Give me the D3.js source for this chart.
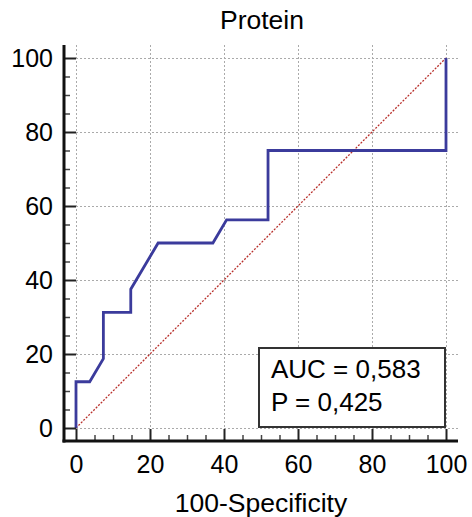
<!DOCTYPE html>
<html>
<head>
<meta charset="utf-8">
<script src="https://cdn.jsdelivr.net/npm/d3@7"></script>
<style>
  body { margin: 0; background: #fff; }
  svg { font-family: "Liberation Sans", Arial, sans-serif; }
</style>
</head>
<body>
<div id="chart"></div>
<script>
// ROC curve points: 100-Specificity vs Sensitivity
let fpr = [0, 0, 3.7, 7.4, 7.4, 14.8, 14.8, 22.2, 37.0, 40.7, 51.9, 51.9, 100, 100];
let tpr = [0, 12.5, 12.5, 18.75, 31.25, 31.25, 37.5, 50, 50, 56.25, 56.25, 75, 75, 100];
let majorTicks = [0, 20, 40, 60, 80, 100];
let minorTicks = d3.range(0, 101, 5).filter(d => d % 20 !== 0);
let statLines = ["AUC = 0,583", "P = 0,425"];
let title = "Protein";
let xLabel = "100-Specificity";

let width = 472, height = 517;

let svg = d3.select("#chart").append("svg").attr("width", width).attr("height", height);

let xScale = d3.scaleLinear().domain([0, 100]).range([76, 446]);
let yScale = d3.scaleLinear().domain([0, 100]).range([428, 58]);

// axis lines sit a bit outside the data area
let axisX = 64, axisY = 441;
let frameRight = 458, frameTop = 45;

// grid
let grid = svg.append("g").attr("stroke", "#aaa").attr("stroke-width", 1).attr("stroke-dasharray", "2,2");
grid.selectAll(".gx").data(majorTicks).enter().append("line")
    .attr("x1", d => xScale(d) + 0.5).attr("x2", d => xScale(d) + 0.5)
    .attr("y1", frameTop).attr("y2", axisY);
grid.selectAll(".gy").data(majorTicks).enter().append("line")
    .attr("y1", d => yScale(d) + 0.5).attr("y2", d => yScale(d) + 0.5)
    .attr("x1", axisX).attr("x2", frameRight);

// diagonal reference line
svg.append("line")
    .attr("x1", xScale(0)).attr("y1", yScale(0))
    .attr("x2", xScale(100)).attr("y2", yScale(100))
    .attr("stroke", "#b8302c").attr("stroke-width", 1.3).attr("stroke-dasharray", "2,1.5");

// ROC curve
let line = d3.line().x((d, i) => xScale(fpr[i])).y((d, i) => yScale(tpr[i]));
svg.append("path").datum(fpr).attr("d", line)
    .attr("fill", "none").attr("stroke", "#3b3b9c").attr("stroke-width", 2.8)
    .attr("stroke-linejoin", "miter");

// y axis
let yAxis = d3.axisLeft(yScale).tickValues(majorTicks).tickSizeInner(-12).tickSizeOuter(0).tickPadding(11);
let gy = svg.append("g").attr("transform", `translate(${axisX},0)`).call(yAxis);
gy.select(".domain").remove();
gy.selectAll(".tick line").attr("stroke", "#222").attr("stroke-width", 2);
gy.selectAll(".tick text").attr("font-size", 25).attr("fill", "#000").attr("font-family", null);

let yMinor = d3.axisLeft(yScale).tickValues(minorTicks).tickSizeInner(-6).tickSizeOuter(0).tickFormat("");
let gym = svg.append("g").attr("transform", `translate(${axisX},0)`).call(yMinor);
gym.select(".domain").remove();
gym.selectAll(".tick line").attr("stroke", "#444").attr("stroke-width", 1.5);

// x axis
let xAxis = d3.axisBottom(xScale).tickValues(majorTicks).tickSizeInner(-12).tickSizeOuter(0).tickPadding(14);
let gx = svg.append("g").attr("transform", `translate(0,${axisY})`).call(xAxis);
gx.select(".domain").remove();
gx.selectAll(".tick line").attr("stroke", "#222").attr("stroke-width", 2);
gx.selectAll(".tick text").attr("font-size", 25).attr("fill", "#000").attr("font-family", null);

let xMinor = d3.axisBottom(xScale).tickValues(minorTicks).tickSizeInner(-6).tickSizeOuter(0).tickFormat("");
let gxm = svg.append("g").attr("transform", `translate(0,${axisY})`).call(xMinor);
gxm.select(".domain").remove();
gxm.selectAll(".tick line").attr("stroke", "#444").attr("stroke-width", 1.5);

// axis lines
svg.append("line").attr("x1", axisX).attr("x2", axisX).attr("y1", frameTop).attr("y2", axisY + 1.5)
    .attr("stroke", "#111").attr("stroke-width", 3);
svg.append("line").attr("x1", axisX - 1.5).attr("x2", frameRight).attr("y1", axisY).attr("y2", axisY)
    .attr("stroke", "#111").attr("stroke-width", 3);

// stats box
let box = svg.append("g");
box.append("rect").attr("x", 259).attr("y", 348).attr("width", 186).attr("height", 79)
    .attr("fill", "#fff").attr("stroke", "#333").attr("stroke-width", 2);
box.selectAll("text").data(statLines).enter().append("text")
    .attr("x", 271).attr("y", (d, i) => 378 + i * 33)
    .attr("font-size", 26).attr("fill", "#000").text(d => d);

// title and axis label
svg.append("text").attr("x", 262).attr("y", 29).attr("text-anchor", "middle")
    .attr("font-size", 26.5).text(title);
svg.append("text").attr("x", 261).attr("y", 512).attr("text-anchor", "middle")
    .attr("font-size", 26.5).text(xLabel);
</script>
</body>
</html>
